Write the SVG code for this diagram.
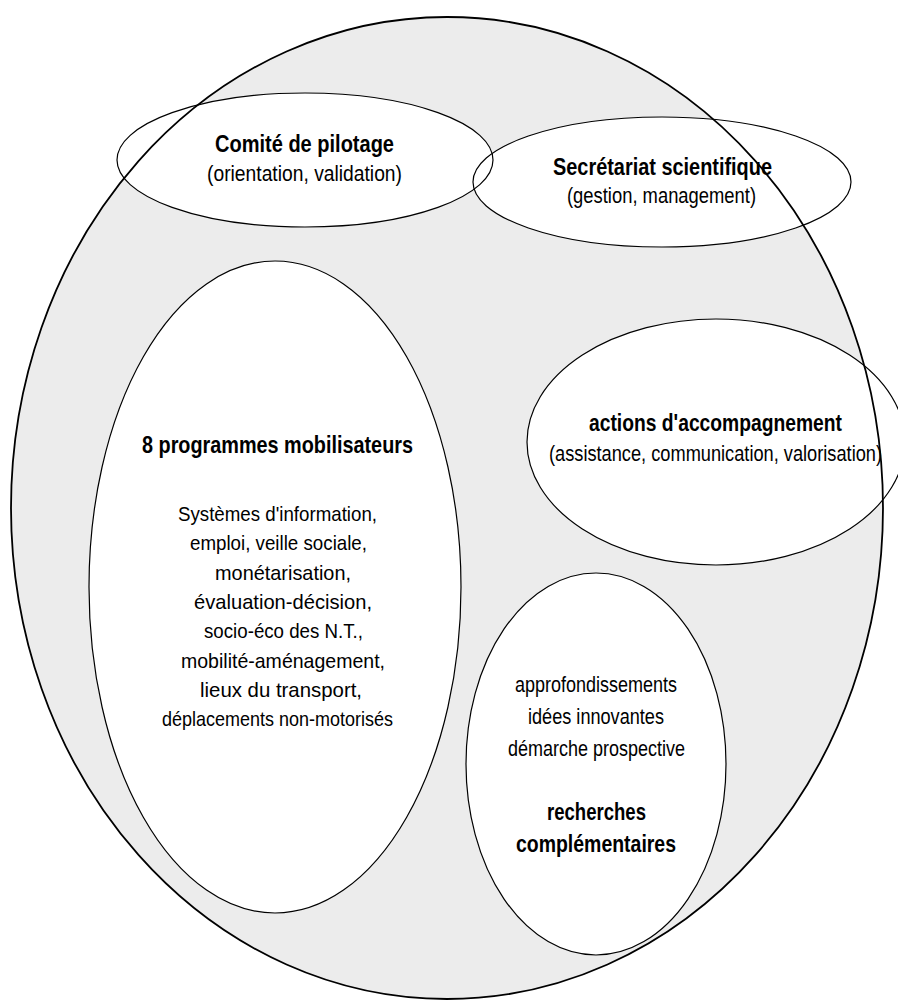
<svg xmlns="http://www.w3.org/2000/svg" xmlns:xlink="http://www.w3.org/1999/xlink" width="898" height="1000" viewBox="0 0 898 1000">
<style>
.bg{fill:#ececec;stroke:none}
.fill{fill:#ffffff;stroke:none}
.line{fill:none;stroke:#000;stroke-width:1.2}
.outer{fill:none;stroke:#000;stroke-width:1.8}
text{font-family:"Liberation Sans",Arial,sans-serif;fill:#000;text-anchor:middle}
.b{font-weight:bold;font-size:24px}
.r{font-size:22px}
.s{font-size:21px}
</style>
<defs>
<ellipse id="e-outer" cx="447" cy="508" rx="436" ry="491"/>
<ellipse id="e-comite" cx="305" cy="160" rx="188" ry="67"/>
<ellipse id="e-secr" cx="662" cy="182" rx="189" ry="65"/>
<ellipse id="e-prog" cx="275" cy="587" rx="186" ry="326"/>
<ellipse id="e-actions" cx="716" cy="442" rx="189" ry="123"/>
<ellipse id="e-rech" cx="596" cy="764" rx="130" ry="191"/>
</defs>
<rect x="0" y="0" width="898" height="1000" fill="#ffffff"/>
<g id="container">
<use href="#e-outer" class="bg"/>
</g>
<g id="node-comite">
<use href="#e-comite" class="fill"/>
<text class="b" x="304.5" y="152" textLength="179" lengthAdjust="spacingAndGlyphs">Comité de pilotage</text>
<text class="r" x="304.5" y="181" textLength="195" lengthAdjust="spacingAndGlyphs">(orientation, validation)</text>
</g>
<g id="node-secretariat">
<use href="#e-secr" class="fill"/>
<text class="b" x="662.5" y="175" textLength="219" lengthAdjust="spacingAndGlyphs">Secrétariat scientifique</text>
<text class="r" x="661.5" y="203" textLength="189" lengthAdjust="spacingAndGlyphs">(gestion, management)</text>
</g>
<g id="node-programmes">
<use href="#e-prog" class="fill"/>
<text class="b" x="277.5" y="453" textLength="271" lengthAdjust="spacingAndGlyphs">8 programmes mobilisateurs</text>
<text class="s" x="277.5" y="521" textLength="199" lengthAdjust="spacingAndGlyphs">Systèmes d'information,</text>
<text class="s" x="278.5" y="550.3" textLength="177" lengthAdjust="spacingAndGlyphs">emploi, veille sociale,</text>
<text class="s" x="283" y="579.6" textLength="136" lengthAdjust="spacingAndGlyphs">monétarisation,</text>
<text class="s" x="283" y="608.9" textLength="178" lengthAdjust="spacingAndGlyphs">évaluation-décision,</text>
<text class="s" x="283.5" y="638.2" textLength="159" lengthAdjust="spacingAndGlyphs">socio-éco des N.T.,</text>
<text class="s" x="283" y="667.5" textLength="204" lengthAdjust="spacingAndGlyphs">mobilité-aménagement,</text>
<text class="s" x="281" y="696.8" textLength="162" lengthAdjust="spacingAndGlyphs">lieux du transport,</text>
<text class="s" x="277.5" y="726" textLength="231" lengthAdjust="spacingAndGlyphs">déplacements non-motorisés</text>
</g>
<g id="node-actions">
<use href="#e-actions" class="fill"/>
<text class="b" x="715.5" y="431" textLength="253" lengthAdjust="spacingAndGlyphs">actions d'accompagnement</text>
<text class="r" x="715.5" y="461" textLength="333" lengthAdjust="spacingAndGlyphs">(assistance, communication, valorisation)</text>
</g>
<g id="node-recherches">
<use href="#e-rech" class="fill"/>
<text class="r" x="596" y="692" textLength="162" lengthAdjust="spacingAndGlyphs">approfondissements</text>
<text class="r" x="596" y="724" textLength="136" lengthAdjust="spacingAndGlyphs">idées innovantes</text>
<text class="r" x="596.5" y="756" textLength="177" lengthAdjust="spacingAndGlyphs">démarche prospective</text>
<text class="b" x="596.5" y="820" textLength="99" lengthAdjust="spacingAndGlyphs">recherches</text>
<text class="b" x="596" y="852" textLength="160" lengthAdjust="spacingAndGlyphs">complémentaires</text>
</g>
<g id="connectors">
<use href="#e-comite" class="line"/>
<use href="#e-secr" class="line"/>
<use href="#e-prog" class="line"/>
<use href="#e-actions" class="line"/>
<use href="#e-rech" class="line"/>
<use href="#e-outer" class="outer"/>
</g>
</svg>
